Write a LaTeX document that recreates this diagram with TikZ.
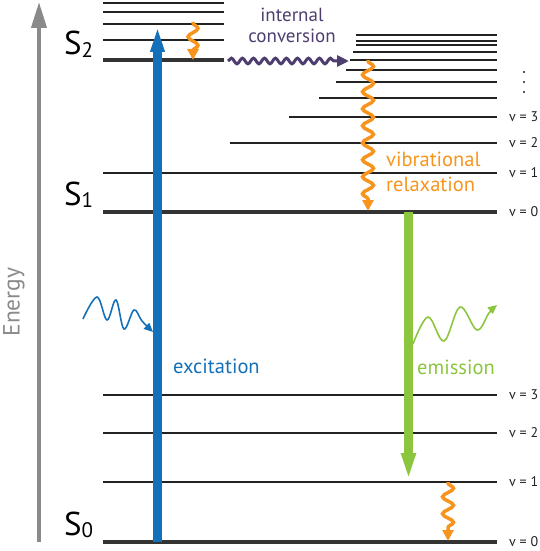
\documentclass[tikz,border=0pt]{standalone}
\usepackage{fontspec}
\setmainfont{PT Sans}
\usetikzlibrary{arrows.meta,decorations.pathmorphing}
\definecolor{exblue}{RGB}{20,113,185}
\definecolor{emgreen}{RGB}{140,198,63}
\definecolor{vrorange}{RGB}{247,148,29}
\definecolor{icpurple}{RGB}{78,62,112}
\definecolor{axisgray}{RGB}{138,138,138}
\definecolor{lvl}{RGB}{34,34,34}
\definecolor{lvlthick}{RGB}{51,51,51}
\begin{document}
\begin{tikzpicture}[x=1pt,y=-1pt,
  level/.style={line width=2pt, draw=lvl},
  ground/.style={line width=4pt, draw=lvlthick},
  vlab/.style={font=\fontsize{14}{14}\selectfont, anchor=west, inner sep=0pt, text=lvl},
  slab/.style={font=\fontsize{33}{33}\selectfont, anchor=base west, inner sep=0pt, text=black},
  wavy/.style={decorate, decoration={snake, amplitude=#1, segment length=17pt, pre length=1pt, post length=9pt}},
  ortip/.style={-{Triangle[length=11pt,width=11pt]}},
  bigtext/.style={font=\fontsize{20.5}{25}\selectfont, inner sep=0pt}
]
\useasboundingbox (0,0) rectangle (540,551);

% energy axis
\coordinate (axb) at (39,542);
\coordinate (axt) at (39,2);
\draw[line width=4pt, axisgray, -{Triangle[length=26pt,width=15pt]}] (axb) -- (axt);
\node[rotate=90, font=\fontsize{23.5}{23.5}\selectfont, text=axisgray, inner sep=0pt] (energy) at (14,302) {Energy};

% S0 levels
\draw[ground] (103,542) -- (497,542);
\foreach \y in {482,433,395} \draw[level] (103,\y) -- (497,\y);
\node[vlab] (s0v0) at (509,542) {v = 0};
\node[vlab] (s0v1) at (509,482) {v = 1};
\node[vlab] (s0v2) at (509,433) {v = 2};
\node[vlab] (s0v3) at (509,395) {v = 3};

% S1 levels
\draw[ground] (103,212) -- (497,212);
\draw[level] (103,173) -- (497,173);
\draw[level] (230,143) -- (497,143);
\draw[level] (289,117) -- (497,117);
\draw[level] (319,98) -- (497,98);
\draw[level] (336,82) -- (497,82);
\draw[level] (346,70) -- (497,70);
\draw[level] (350,60) -- (497,60);
\draw[level] (353,52) -- (497,52);
\draw[level] (356,45) -- (497,45);
\draw[level] (356,41) -- (497,41);
\draw[level] (356,35) -- (497,35);
\node[vlab] (s1v0) at (509,212) {v = 0};
\node[vlab] (s1v1) at (509,173) {v = 1};
\node[vlab] (s1v2) at (509,143) {v = 2};
\node[vlab] (s1v3) at (509,117) {v = 3};
\foreach \y in {72,82,92} \fill[lvl] (524,\y) circle (1.2pt);

% S2 levels
\draw[ground] (103,60) -- (224,60);
\foreach \y in {40,24,12,3} \draw[level] (103,\y) -- (224,\y);

% state labels
\node[slab] (S0) at (64,535) {S\raisebox{-2pt}{\fontsize{21}{21}\selectfont 0}};
\node[slab] (S1) at (64,205) {S\raisebox{-2pt}{\fontsize{21}{21}\selectfont 1}};
\node[slab] (S2) at (64,55) {S\raisebox{-2pt}{\fontsize{21}{21}\selectfont 2}};

% excitation
\coordinate (exb) at (157.5,542);
\coordinate (ext) at (157.5,25);
\draw[line width=8.5pt, exblue, -{Triangle[length=27pt,width=12.5pt]}] (exb) -- (ext);
\node[bigtext, text=exblue, anchor=west] (exlab) at (173,366) {excitation};
\draw[exblue, line width=1.6pt, -{Triangle[length=9pt,width=8pt]}]
  plot[smooth, tension=0.6] coordinates {(83,319) (97,297) (107,320) (116,300) (124,329) (134,310) (142,321) (153,332)};

% emission
\coordinate (emt) at (408.5,212);
\coordinate (emb) at (408.5,481);
\draw[line width=8.5pt, emgreen, -{Triangle[length=28pt,width=13pt]}] (emt) -- (emb);
\node[bigtext, text=emgreen, anchor=west] (emlab) at (417,367) {emission};
\draw[emgreen, line width=1.6pt, -{Triangle[length=9pt,width=8pt]}]
  plot[smooth, tension=0.6] coordinates {(413,344) (428,317) (444,341) (460,307) (477,330) (489,313) (497,305)};

% internal conversion
\coordinate (ics) at (228,61);
\coordinate (ice) at (349,61);
\draw[icpurple, line width=3pt, decorate, decoration={snake, amplitude=2.8pt, segment length=11pt, post length=10pt}, -{Triangle[length=12pt,width=11pt]}] (ics) -- (ice);
\node[font=\fontsize{19}{21}\selectfont, inner sep=0pt, text=icpurple, align=center] (iclab) at (292,25) {internal\\conversion};

% vibrational relaxation
\coordinate (vr2a) at (193,22);
\coordinate (vr2b) at (193,60);
\draw[vrorange, line width=3.5pt, wavy=5pt, ortip] (vr2a) -- (vr2b);
\coordinate (vr1a) at (368,60);
\coordinate (vr1b) at (368,211);
\draw[vrorange, line width=3.5pt, wavy=5.5pt, ortip] (vr1a) -- (vr1b);
\coordinate (vr0a) at (448,482);
\coordinate (vr0b) at (448,541);
\draw[vrorange, line width=3.5pt, wavy=5.5pt, ortip] (vr0a) -- (vr0b);
\node[bigtext, text=vrorange, align=left, anchor=west] (vrlab) at (386,172) {vibrational\\relaxation};
\end{tikzpicture}
\end{document}
